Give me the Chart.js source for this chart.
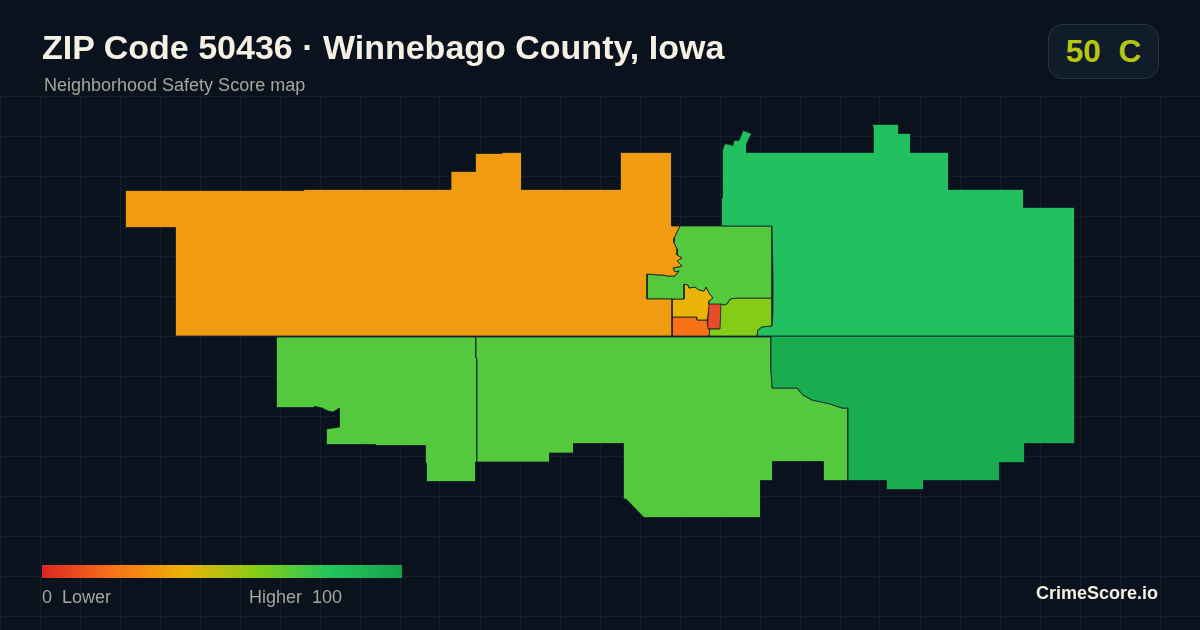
<!DOCTYPE html>
<html>
<head>
<meta charset="utf-8">
<script src="https://cdn.jsdelivr.net/npm/chart.js@4"></script>
<style>
html,body{margin:0;padding:0;background:#0a121d;width:1200px;height:630px;overflow:hidden;font-family:"Liberation Sans",Arial,sans-serif}
#wrap{position:relative;width:1200px;height:630px}
canvas{position:absolute;left:0;top:0}
.t{position:absolute;white-space:pre;line-height:1}
#title{left:42px;top:30px;font-size:34px;font-weight:700;color:#f5efe4}
#sub{left:44px;top:76px;font-size:18px;color:#a8a59c}
#badge{position:absolute;left:1048px;top:24px;width:109px;height:53px;border:1px solid #263340;border-radius:14px;background:#111c2a;
 display:flex;align-items:center;justify-content:center;color:#b5c714;font-size:31.5px;font-weight:700;white-space:pre}
#bar{position:absolute;left:42px;top:565px;width:360px;height:13px;
 background:linear-gradient(90deg,#dc2626 0%,#f97316 20%,#eab308 40%,#84cc16 60%,#22c55e 80%,#16a34a 100%)}
#lo{left:42px;top:588px;font-size:18px;color:#a8a59c}
#hi{left:249px;top:588px;font-size:18px;color:#a8a59c}
#brand{right:42px;top:584px;font-size:18px;font-weight:700;color:#f5efe4}
</style>
</head>
<body>
<div id="wrap">
<canvas id="c" width="1200" height="630"></canvas>
<div class="t" id="title">ZIP Code 50436 · Winnebago County, Iowa</div>
<div class="t" id="sub">Neighborhood Safety Score map</div>
<div id="badge">50  C</div>
<div id="bar"></div>
<div class="t" id="lo">0  Lower</div>
<div class="t" id="hi">Higher  100</div>
<div class="t" id="brand">CrimeScore.io</div>
</div>
<script>
const gridX = [0,40,80,120,160,200,240,280,320,360,400,440,480,520,560,600,640,680,720,760,800,840,880,920,960,1000,1040,1080,1120,1160,1200];
const gridY = [96,136,176,216,256,296,336,376,416,456,496,536,576,616];

const westArea = [[125.5,190.5],[304,190.5],[304,189.5],[451,189.5],[451,171.5],[475.5,171.5],[475.5,153.5],[502,153.5],[502,152.5],[521.5,152.5],[521.5,189.5],[620.5,189.5],[620.5,152.5],[671.5,152.5],[671.5,226],[680,226],[678,230],[674,238],[674,243],[677,249],[677,255],[682,258],[677,261],[682,266],[678,267],[673,268],[675,272],[679,271],[675,276],[667,276],[663,275],[659,275],[647,274],[647,299],[672,299],[672,336],[175.5,336],[175.5,227.5],[125.5,227.5]];
const eastArea = [[721.5,226],[721.5,198],[722.5,198],[722.5,150],[725,143.5],[733,145.5],[734,140.5],[739,140.5],[743,130.5],[751.5,133.5],[746.5,144],[746.5,152.5],[873.5,152.5],[873.5,129],[872.5,124.5],[898.5,124.5],[898.5,133.5],[910.5,133.5],[910.5,152.5],[948.5,152.5],[948.5,189.5],[1023.5,189.5],[1023.5,207.5],[1074.5,207.5],[1074.5,336],[757,336],[758,330],[762,327],[772,326],[773,312],[773,276],[772,226]];
const southEastArea = [[771,336],[1074.5,336],[1074.5,443.5],[1024.5,443.5],[1024.5,462.5],[999.5,462.5],[999.5,480.5],[923.5,480.5],[923.5,489.5],[886.5,489.5],[886.5,480.5],[848,480.5],[848,408],[842,408],[830,404],[817,401],[812,400],[803,395],[797,388],[772,388],[771,370]];
const southArea = [[476,337],[771,337],[771,370],[772,388],[797,388],[803,395],[812,400],[817,401],[830,404],[842,408],[848,408],[848,480.5],[823.5,480.5],[823.5,461.5],[772.5,461.5],[772.5,480.5],[760.5,480.5],[760.5,517.5],[644,517.5],[626,499],[623.5,499],[623.5,443.5],[573.5,443.5],[573.5,453],[549.5,453],[549.5,462],[477,462],[477,358],[476,358]];
const southWestArea = [[276.5,337],[476,337],[476,358],[477,358],[477,462],[475.5,462],[475.5,481.5],[426.5,481.5],[426.5,463],[425.5,463],[425.5,445.5],[376,445.5],[376,444.5],[326.5,444.5],[326.5,429],[333,428],[339.5,427],[339.5,408],[333,412],[328,411],[322,408],[315,406.5],[313,407.5],[276.5,407.5]];
const townNorth = [[680,226],[772,226],[772,298],[737,298],[730,299],[727,304],[723,305],[722,304],[709,304],[709,301],[713,298],[709,293],[706,287],[704,291],[699,290],[695,287],[689,288],[688,285],[684,284],[684,299],[647,299],[647,274],[659,275],[663,275],[667,276],[675,276],[679,271],[675,272],[673,268],[678,267],[682,266],[677,261],[682,258],[677,255],[677,249],[674,243],[674,238],[678,230]];
const townEast = [[737,298],[772,298],[772,326],[762,327],[758,330],[757,336],[709,336],[710,329],[720,329],[721,304],[722,304],[723,305],[727,304],[730,299]];
const townCentre = [[684,284],[688,285],[689,288],[695,287],[699,290],[704,291],[706,287],[709,293],[713,298],[709,301],[709,304],[708,315],[707,320],[697,320],[697,317],[672,317],[672,299],[684,299]];
const townSouth = [[672,317],[697,317],[697,320],[707,320],[708,329],[710,329],[709,336],[672,336]];
const townCore = [[708.5,303.5],[721.5,303.5],[720.5,329],[707.5,329],[708,315]];

const areaShapes = [westArea, eastArea, southEastArea, southArea, southWestArea, townNorth, townEast, townCentre, townSouth, townCore];
const areaNames = ["West","East","South-east","South","South-west","Town north","Town east","Town centre","Town south","Town core"];
const areaColors = ["#f09b10","#22c05f","#1aad50","#54c93d","#54c93d","#54c93d","#84cc16","#eab308","#f97316","#e74c2b"];

const datasets = areaShapes.map((shape, i) => ({
  label: areaNames[i],
  data: shape.concat([shape[0]]).map(p => ({x: p[0], y: p[1]})),
  showLine: true,
  fill: 'shape',
  tension: 0,
  pointRadius: 0,
  borderWidth: 0.8,
  borderColor: '#10202a',
  backgroundColor: areaColors[i]
}));

new Chart(document.getElementById('c'), {
  type: 'scatter',
  data: {datasets},
  options: {
    responsive: false,
    animation: false,
    devicePixelRatio: 1,
    layout: {padding: {top: 96, left: 0, right: 0, bottom: 0}},
    plugins: {legend: {display: false}, tooltip: {enabled: false}},
    scales: {
      x: {
        type: 'linear', min: 0, max: 1200,
        afterBuildTicks: s => { s.ticks = gridX.map(v => ({value: v})); },
        ticks: {display: false},
        border: {display: false},
        grid: {color: '#141f2b', lineWidth: 1, drawTicks: false}
      },
      y: {
        type: 'linear', reverse: true, min: 96, max: 630,
        afterBuildTicks: s => { s.ticks = gridY.map(v => ({value: v})); },
        ticks: {display: false},
        border: {display: false},
        grid: {color: '#141f2b', lineWidth: 1, drawTicks: false}
      }
    }
  }
});
</script>
</body>
</html>
